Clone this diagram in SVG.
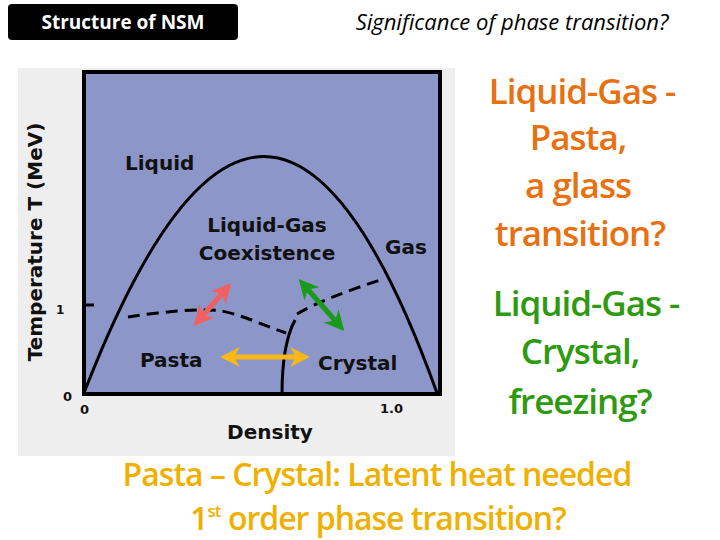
<svg xmlns="http://www.w3.org/2000/svg" width="720" height="540" viewBox="0 0 720 540">
<style>
.ax{font-family:"DejaVu Sans",sans-serif;font-weight:bold;fill:#111}
.big{font-family:"Open Sans",sans-serif;font-size:35px;font-weight:600;text-anchor:middle;letter-spacing:-1px}
.bot{font-family:"Open Sans",sans-serif;font-size:32px;font-weight:600;text-anchor:middle;letter-spacing:-1px;fill:#f0b000}
.dash{fill:none;stroke:#000;stroke-width:3;stroke-dasharray:12,7}
</style>
<defs>
<marker id="r" viewBox="0 0 10 10" refX="6" refY="5" markerWidth="4" markerHeight="4" orient="auto-start-reverse"><path d="M0,0 L10,5 L0,10 L3,5 Z" fill="#f06060"/></marker>
<marker id="g" viewBox="0 0 10 10" refX="6" refY="5" markerWidth="4" markerHeight="4" orient="auto-start-reverse"><path d="M0,0 L10,5 L0,10 L3,5 Z" fill="#1a9a1a"/></marker>
<marker id="y" viewBox="0 0 10 10" refX="6" refY="5" markerWidth="4" markerHeight="4" orient="auto-start-reverse"><path d="M0,0 L10,5 L0,10 L3,5 Z" fill="#f8b818"/></marker>
</defs>
<rect width="720" height="540" fill="#fff"/>
<g id="title"><rect x="8" y="4" width="230" height="36" rx="4" fill="#000"/><text x="123" y="29" font-family="Open Sans,sans-serif" font-size="19" font-weight="bold" fill="#fff" text-anchor="middle">Structure of NSM</text></g>
<text x="512" y="30" font-family="Open Sans,sans-serif" font-size="22" font-style="italic" text-anchor="middle" fill="#000">Significance of phase transition?</text>
<g id="plot">
<rect x="18" y="68" width="437" height="388" fill="#eeeeee"/>
<rect x="84" y="72" width="356" height="322" fill="#8c96c8" stroke="#000" stroke-width="4"/>
<path d="M84,393 Q267,-80 437,393" fill="none" stroke="#000" stroke-width="3"/>
<path class="dash" d="M128,317 C160,312 200,308 222,311 C245,316 265,326 286,333"/>
<path class="dash" d="M297,314 C315,303 350,290 380,280"/>
<line class="dash" x1="82" y1="305" x2="97" y2="305"/>
<path d="M295,320 C287,335 282,360 282,394" fill="none" stroke="#000" stroke-width="3"/>
<text class="ax" x="125" y="170" font-size="20">Liquid</text>
<text class="ax" x="267" y="232" font-size="20" text-anchor="middle">Liquid-Gas</text>
<text class="ax" x="267" y="260" font-size="20" text-anchor="middle">Coexistence</text>
<text class="ax" x="385" y="254" font-size="20">Gas</text>
<text class="ax" x="140" y="367" font-size="20">Pasta</text>
<text class="ax" x="318" y="370" font-size="20">Crystal</text>
<text class="ax" x="270" y="439" font-size="20" text-anchor="middle">Density</text>
<text class="ax" x="380" y="413" font-size="13">1.0</text>
<text class="ax" x="80" y="414" font-size="13">0</text>
<text class="ax" x="63" y="401" font-size="13">0</text>
<text class="ax" x="56" y="314" font-size="12">1</text>
<text class="ax" font-size="20" transform="translate(42,242) rotate(-90)" text-anchor="middle">Temperature T (MeV)</text>
</g>
<g id="arrows">
<line x1="199" y1="320" x2="226" y2="289" stroke="#f06060" stroke-width="5" marker-start="url(#r)" marker-end="url(#r)"/>
<line x1="304" y1="285" x2="339" y2="325" stroke="#1a9a1a" stroke-width="5" marker-start="url(#g)" marker-end="url(#g)"/>
<line x1="228" y1="357" x2="302" y2="357" stroke="#f8b818" stroke-width="5" marker-start="url(#y)" marker-end="url(#y)"/>
</g>
<g id="notes">
<text class="big" fill="#e87010" x="582" y="104">Liquid-Gas  -</text>
<text class="big" fill="#e87010" x="578" y="150">Pasta,</text>
<text class="big" fill="#e87010" x="578" y="198">a glass</text>
<text class="big" fill="#e87010" x="580" y="246">transition?</text>
<text class="big" fill="#2e9a10" x="586" y="316">Liquid-Gas  -</text>
<text class="big" fill="#2e9a10" x="580" y="364">Crystal,</text>
<text class="big" fill="#2e9a10" x="580" y="414">freezing?</text>
<text class="bot" x="377" y="486">Pasta – Crystal: Latent heat needed</text>
<text class="bot" x="378" y="530">1<tspan font-size="17" dy="-13">st</tspan><tspan dy="13"> order phase transition?</tspan></text>
</g>
</svg>
